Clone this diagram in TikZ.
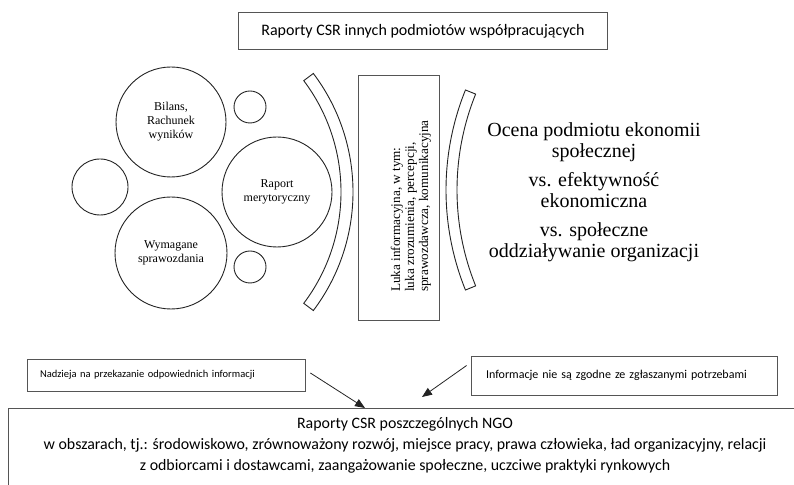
\documentclass[tikz,border=0pt]{standalone}
\usepackage{fontspec}
\setmainfont{Liberation Serif}
\newfontfamily\calibri{Carlito}
\usepackage{tikz}
\usetikzlibrary{arrows.meta,positioning,calc}
\definecolor{mInk}{RGB}{35,35,35}
\definecolor{mFrame}{RGB}{85,85,85}
\tikzset{
disc/.style={circle,draw=mInk,line width=0.9pt,inner sep=0pt,align=center,font=\fontsize{12}{14}\selectfont},
reportbox/.style={rectangle,draw=mFrame,line width=0.8pt,inner sep=0pt},
notebox/.style={rectangle,draw=mFrame,line width=0.8pt,inner ysep=0pt,align=left},
band/.style={draw=mInk,line width=0.9pt,fill=white},
arrow/.style={-{Triangle[length=10pt,width=8pt]},line width=0.8pt,draw=mInk}
}

\begin{document}
\begin{tikzpicture}[x=1pt,y=1pt]
\useasboundingbox (0,0) rectangle (794,484);
\clip (0,0) rectangle (794,484);
\node[reportbox,minimum width=369pt,minimum height=37pt,font=\calibri\fontsize{16}{19}\selectfont] (partners) at (423,453) {Raporty CSR innych podmiotów współpracujących};

\node[disc,minimum size=110pt] (bilans) at (171,362) {Bilans,\\Rachunek\\wyników};
\node[disc,minimum size=32pt] (dotA) at (250,377) {};
\node[disc,minimum size=56pt] (dotB) at (100,297) {};
\node[disc,minimum size=110pt] (merit) at (277,292) {Raport\\merytoryczny};
\node[disc,minimum size=112pt] (required) at (171,231) {Wymagane\\sprawozdania};
\node[disc,minimum size=32pt] (dotC) at (250,217) {};

\coordinate (leftc) at (156,292);
\coordinate (rightc) at (713,294);
\draw[band] ($(leftc)+(-37:197)$) arc[start angle=-37,end angle=37,radius=197] -- ($(leftc)+(37:185)$) arc[start angle=37,end angle=-37,radius=185] -- cycle;
\draw[band] ($(rightc)+(158:267)$) arc[start angle=158,end angle=202,radius=267] -- ($(rightc)+(202:256)$) arc[start angle=202,end angle=158,radius=256] -- cycle;

\node[reportbox,minimum width=81pt,minimum height=245pt] (luka) at (398.5,286.5) {};
\node[rotate=90,anchor=west,align=left,inner sep=0pt,font=\fontsize{13.2}{14}\selectfont] (lukatext) at (411,192) {Luka informacyjna, w tym:\\luka zrozumienia, percepcji,\\sprawozdawcza, komunikacyjna};

\node[align=center,font=\fontsize{20}{21}\selectfont] (ocena) at (594,292) {Ocena podmiotu ekonomii\\społecznej\\[8pt]vs. efektywność\\ekonomiczna\\[8pt]vs. społeczne\\oddziaływanie organizacji};

\node[notebox,minimum height=32pt,text width=252pt,inner xsep=13pt,font=\calibri\fontsize{10.5}{12}\selectfont] (hope) at (166,109) {Nadzieja na przekazanie odpowiednich informacji};
\node[notebox,minimum height=39pt,text width=276pt,inner xsep=15pt,font=\calibri\fontsize{12}{14}\selectfont] (mismatch) at (624,108.5) {Informacje nie są zgodne ze zgłaszanymi potrzebami};

\node[reportbox,minimum width=794pt,minimum height=100pt,anchor=north] (ngo) at (405,76) {};
\node[below=9pt of ngo.north,inner sep=0pt,align=center,font=\calibri\fontsize{15.9}{21}\selectfont] (ngotext) {Raporty CSR poszczególnych NGO\\w obszarach, tj.: środowiskowo, zrównoważony rozwój, miejsce pracy, prawa człowieka, ład organizacyjny, relacji\\z odbiorcami i dostawcami, zaangażowanie społeczne, uczciwe praktyki rynkowych};

\draw[arrow] ([xshift=5pt,yshift=2pt]hope.east) -- ([xshift=-40pt]ngo.north);
\draw[arrow] ([xshift=-4pt,yshift=10pt]mismatch.west) -- ([xshift=17pt,yshift=11pt]ngo.north);
\end{tikzpicture}
\end{document}
